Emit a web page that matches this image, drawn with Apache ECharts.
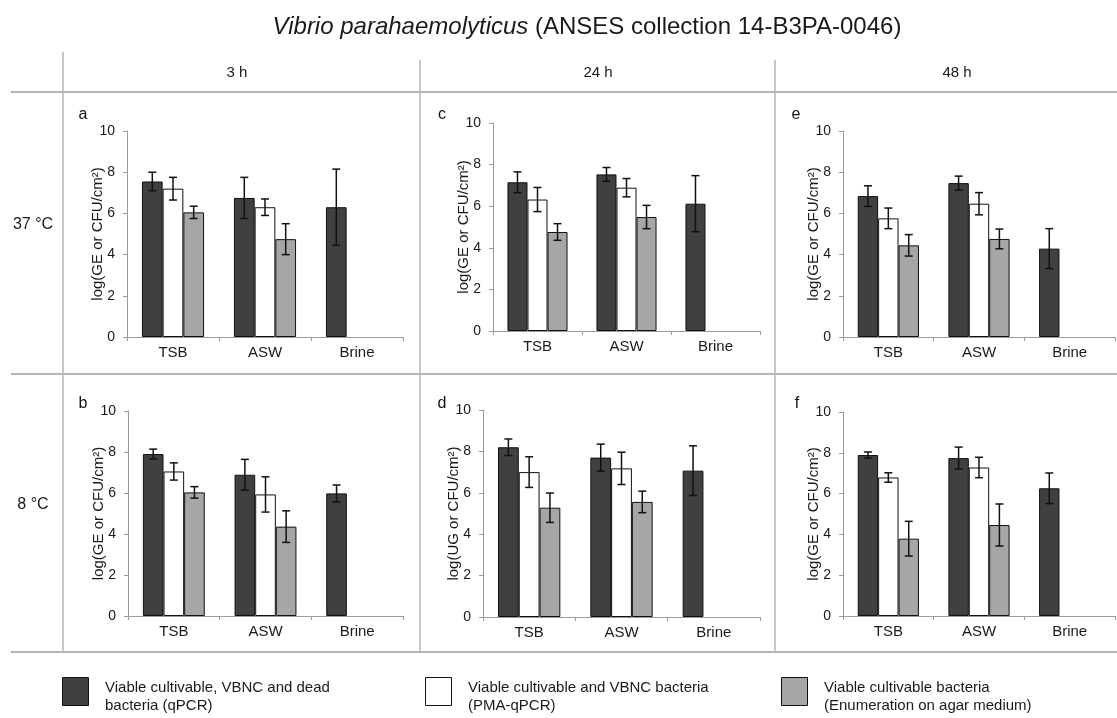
<!DOCTYPE html>
<html>
<head>
<meta charset="utf-8">
<script src="https://cdn.jsdelivr.net/npm/echarts@6/dist/echarts.min.js"></script>
<style>html,body{margin:0;padding:0;background:#fff}#c{width:1117px;height:718px}</style>
</head>
<body>
<div id="c"></div>
<script>
// ---- data ----
const categories = ['TSB', 'ASW', 'Brine'];
const yTicks = [0, 2, 4, 6, 8, 10];
const seriesNames = [
  'Viable cultivable, VBNC and dead\nbacteria (qPCR)',
  'Viable cultivable and VBNC bacteria\n(PMA-qPCR)',
  'Viable cultivable bacteria\n(Enumeration on agar medium)'
];
const timeLabels = ['3 h', '24 h', '48 h'];
const tempLabels = ['37 °C', '8 °C'];
const panelLetters = ['a', 'c', 'e', 'b', 'd', 'f'];
const yNames = ['log(GE or CFU/cm²)', 'log(GE or CFU/cm²)', 'log(GE or CFU/cm²)',
                'log(GE or CFU/cm²)', 'log(UG or CFU/cm²)', 'log(GE or CFU/cm²)'];

// means: [qPCR, PMA-qPCR, agar] per category TSB, ASW, Brine
const meanA = [[7.55, 6.75, 6.3], [7.2, 6.3, null], [6.05, 4.75, null]];
const errA  = [[0.45, 1.0, 1.85], [0.55, 0.4, null], [0.3, 0.75, null]];
const meanC = [[7.15, 7.53, 6.12], [6.32, 6.89, null], [4.76, 5.48, null]];
const errC  = [[0.5, 0.33, 1.35], [0.58, 0.44, null], [0.4, 0.56, null]];
const meanE = [[6.84, 7.47, 4.29], [5.76, 6.47, null], [4.45, 4.76, null]];
const errE  = [[0.5, 0.34, 0.97], [0.5, 0.54, null], [0.52, 0.48, null]];
const meanB = [[7.9, 6.89, 5.98], [7.05, 5.93, null], [6.03, 4.36, null]];
const errB  = [[0.24, 0.75, 0.41], [0.42, 0.86, null], [0.28, 0.77, null]];
const meanD = [[8.2, 7.7, 7.07], [7.0, 7.18, null], [5.28, 5.56, null]];
const errD  = [[0.4, 0.65, 1.2], [0.74, 0.78, null], [0.71, 0.52, null]];
const meanF = [[7.89, 7.74, 6.26], [6.79, 7.28, null], [3.79, 4.46, null]];
const errF  = [[0.15, 0.54, 0.75], [0.23, 0.5, null], [0.85, 1.03, null]];

const panelMeans = [meanA, meanC, meanE, meanB, meanD, meanF];
const panelErrs = [errA, errC, errE, errB, errD, errF];

// ---- layout / style ----
const FONT = '"Liberation Sans", Arial, Helvetica, sans-serif';
const barColors = ['#404040', '#ffffff', '#a6a6a6'];
const gridBoxes = [
  {left: 127, top: 131, width: 276, height: 206},
  {left: 493, top: 123, width: 267, height: 208},
  {left: 843, top: 131, width: 272, height: 206},
  {left: 128, top: 411, width: 275, height: 205},
  {left: 483, top: 410, width: 277, height: 207},
  {left: 843, top: 412, width: 272, height: 204}
];
const BAR_FRAC = 0.225;
const axisGray = '#9a9a9a';

const grids = [], xAxes = [], yAxes = [], series = [], graphics = [];

gridBoxes.forEach((g, p) => {
  grids.push(Object.assign({containLabel: false}, g));
  xAxes.push({
    type: 'category', gridIndex: p, data: categories,
    axisLine: {lineStyle: {color: axisGray, width: 1}},
    axisTick: {show: true, length: 4, lineStyle: {color: axisGray}},
    axisLabel: {color: '#1a1a1a', fontSize: 15, fontFamily: FONT, margin: 8}
  });
  yAxes.push({
    type: 'value', gridIndex: p, min: 0, max: 10, interval: 2,
    name: yNames[p], nameLocation: 'middle', nameGap: 22, nameRotate: 90,
    nameMoveOverlap: false,
    nameTextStyle: {color: '#1a1a1a', fontSize: 15, fontFamily: FONT},
    axisLine: {show: true, lineStyle: {color: axisGray, width: 1}},
    axisTick: {show: true, length: 4, lineStyle: {color: axisGray}},
    splitLine: {show: false},
    axisLabel: {color: '#1a1a1a', fontSize: 14, fontFamily: FONT, margin: 12}
  });
  for (let s = 0; s < 3; s++) {
    series.push({
      type: 'bar', name: seriesNames[s], xAxisIndex: p, yAxisIndex: p,
      data: panelMeans[p][s].map(v => v == null ? '-' : v),
      barWidth: (BAR_FRAC * 100) + '%', barGap: '0%',
      itemStyle: {color: barColors[s], borderColor: '#111', borderWidth: 1},
      emphasis: {disabled: true}, silent: true, z: 2
    });
  }
  for (let s = 0; s < 3; s++) {
    const off = s - 1;
    const data = [];
    panelMeans[p][s].forEach((m, i) => {
      if (m != null) data.push([i, m, panelErrs[p][s][i]]);
    });
    series.push({
      type: 'custom', xAxisIndex: p, yAxisIndex: p, silent: true, z: 5,
      encode: {x: 0, y: 1},
      data: data,
      renderItem: function (params, api) {
        const ci = api.value(0), m = api.value(1), e = api.value(2);
        const c = api.coord([ci, m]);
        const w = api.size([1, 0])[0] * BAR_FRAC;
        const x = c[0] + off * w;
        const yt = api.coord([ci, m + e])[1];
        const yb = api.coord([ci, m - e])[1];
        const st = {stroke: '#111', lineWidth: 1.5};
        const cap = 4;
        return {
          type: 'group',
          children: [
            {type: 'line', shape: {x1: x, y1: yt, x2: x, y2: yb}, style: st},
            {type: 'line', shape: {x1: x - cap, y1: yt, x2: x + cap, y2: yt}, style: st},
            {type: 'line', shape: {x1: x - cap, y1: yb, x2: x + cap, y2: yb}, style: st}
          ]
        };
      }
    });
  }
});

// table lines
const lineColor = '#b5b5b5';
function addLine(x1, y1, x2, y2, w) {
  graphics.push({type: 'line', silent: true, shape: {x1, y1, x2, y2},
    style: {stroke: lineColor, lineWidth: w}});
}
addLine(63, 52, 63, 652, 1.5);
addLine(420, 60, 420, 652, 1.5);
addLine(775, 60, 775, 652, 1.5);
addLine(11, 92, 1117, 92, 2);
addLine(11, 374, 1117, 374, 2);
addLine(11, 652, 1117, 652, 2);

// title
graphics.push({
  type: 'text', x: 587, y: 27, silent: true,
  style: {
    text: '{i|Vibrio parahaemolyticus} (ANSES collection 14-B3PA-0046)',
    font: '24px ' + FONT, fill: '#1a1a1a', align: 'center', verticalAlign: 'middle',
    rich: {i: {fontStyle: 'italic', fontSize: 24, fontFamily: FONT, fill: '#1a1a1a'}}
  }
});
// column headers
const colCenters = [237, 598, 957];
timeLabels.forEach((t, i) => {
  graphics.push({type: 'text', x: colCenters[i], y: 73, silent: true,
    style: {text: t, font: '15px ' + FONT, fill: '#1a1a1a', align: 'center', verticalAlign: 'middle'}});
});
// row headers
const rowCenters = [225, 505];
tempLabels.forEach((t, i) => {
  graphics.push({type: 'text', x: 33, y: rowCenters[i], silent: true,
    style: {text: t, font: '16px ' + FONT, fill: '#1a1a1a', align: 'center', verticalAlign: 'middle'}});
});
// panel letters
const letterPos = [[83, 115], [442, 115], [796, 115], [83, 404], [442, 404], [797, 404]];
panelLetters.forEach((l, i) => {
  graphics.push({type: 'text', x: letterPos[i][0], y: letterPos[i][1], silent: true,
    style: {text: l, font: '16px ' + FONT, fill: '#111', align: 'center', verticalAlign: 'middle'}});
});

// legend (swatch + two-line label for each series)
const legendLefts = [62, 425, 781];
seriesNames.forEach((n, i) => {
  graphics.push({type: 'rect', silent: true,
    shape: {x: legendLefts[i] + 0.5, y: 677.5, width: 26, height: 28},
    style: {fill: barColors[i], stroke: '#111', lineWidth: 1}});
  graphics.push({type: 'text', silent: true, x: legendLefts[i] + 43, y: 679,
    style: {text: n, font: '15px ' + FONT, fill: '#1a1a1a', lineHeight: 18,
      align: 'left', verticalAlign: 'top'}});
});

const chart = echarts.init(document.getElementById('c'), null, {renderer: 'canvas'});
chart.setOption({
  animation: false,
  backgroundColor: '#fff',
  grid: grids,
  xAxis: xAxes,
  yAxis: yAxes,
  series: series,
  graphic: graphics
});
</script>
</body>
</html>
